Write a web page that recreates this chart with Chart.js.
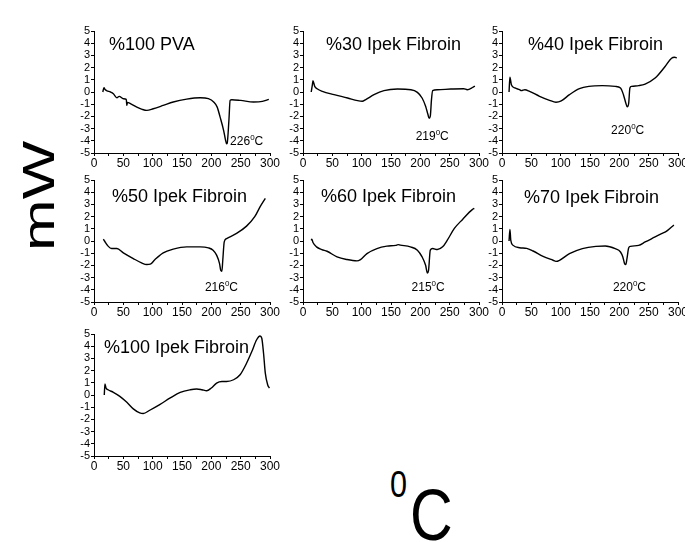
<!DOCTYPE html>
<html>
<head>
<meta charset="utf-8">
<script src="https://cdn.jsdelivr.net/npm/chart.js@4.4.1/dist/chart.umd.min.js"></script>
<style>
  html, body { margin: 0; padding: 0; background: #fff; }
  body { width: 685px; height: 542px; position: relative; overflow: hidden;
         font-family: "Liberation Sans", Arial, sans-serif; }
  canvas { position: absolute; }
  .big { position: absolute; color: #000; white-space: nowrap; line-height: 1; }
</style>
</head>
<body>
<canvas id="p1" width="212" height="150" style="left:72px;top:21px"></canvas>
<canvas id="p2" width="212" height="150" style="left:281px;top:21px"></canvas>
<canvas id="p3" width="212" height="150" style="left:480px;top:21px"></canvas>
<canvas id="p4" width="212" height="150" style="left:72px;top:170px"></canvas>
<canvas id="p5" width="212" height="150" style="left:281px;top:170px"></canvas>
<canvas id="p6" width="212" height="150" style="left:480px;top:170px"></canvas>
<canvas id="p7" width="212" height="150" style="left:72px;top:324px"></canvas>

<div class="big" style="left:17px;top:251px;font-size:62px;transform-origin:0 0;transform:rotate(-90deg) scaleY(0.72)">mW</div>
<div class="big" style="left:390px;top:467px;font-size:36px;transform-origin:0 0;transform:scaleX(0.85)">0</div>
<div class="big" style="left:410px;top:479px;font-size:72px;transform-origin:0 0;transform:scaleX(0.82)">C</div>

<script>
// temperatures (deg C) and heat flow (mW)
var pvaT  = [15,17,19,22,28,33,39,43,50,55,56,57,62,73,82,90,101,118,135,158,181,195,204,210,215,221,224,226,227,230,232,235,250,272,287,298];
var pvaMW = [0,0.35,0.2,0.1,0,-0.14,-0.47,-0.36,-0.55,-0.6,-1.1,-0.85,-0.95,-1.24,-1.42,-1.51,-1.37,-1.1,-0.82,-0.58,-0.47,-0.55,-0.82,-1.24,-2.06,-3.16,-3.9,-4.25,-4.2,-2.3,-0.69,-0.63,-0.69,-0.82,-0.77,-0.6];

var f30T  = [14,16,17,20,24,33,53,76,93,101,107,121,138,161,184,195,203,209,213,215,217,219,221,229,252,274,280,290,293];
var f30MW = [0,0.6,0.92,0.46,0.27,0.05,-0.22,-0.49,-0.71,-0.76,-0.62,-0.22,0.11,0.24,0.19,-0.03,-0.49,-1.17,-1.85,-2.15,-1.98,-0.62,0.11,0.19,0.24,0.27,0.19,0.4,0.48];

var f40T  = [12,13.5,16,22,30,33,39,47,64,81,92,101,115,132,148,171,193,202,207,211,213.5,216,218,221,233,244,261,278,289,294,298];
var f40MW = [0,1.22,0.6,0.33,0.19,0.11,0.19,0.05,-0.35,-0.68,-0.84,-0.73,-0.22,0.27,0.46,0.52,0.46,0.33,-0.22,-0.9,-1.22,-0.9,0.33,0.46,0.52,0.65,1.14,2.09,2.77,2.85,2.8];

var f50T  = [16,18,24,30,39,50,67,81,90,96,104,118,135,158,181,195,203,209,214,216,218,219.5,222,226,243,260,274,283,292];
var f50MW = [0.15,0,-0.42,-0.62,-0.62,-0.97,-1.44,-1.79,-1.93,-1.9,-1.52,-0.97,-0.67,-0.48,-0.48,-0.56,-0.75,-1.16,-1.85,-2.4,-2.48,-1.58,-0.07,0.2,0.62,1.22,1.99,2.8,3.5];

var f60T  = [14,15,17,23,32,41,58,75,92,98,109,126,143,158,162,166,183,195,203,209,212,214,217,221,229,238,246,258,272,289,292];
var f60MW = [0.05,0.15,-0.12,-0.48,-0.7,-0.84,-1.3,-1.52,-1.63,-1.52,-1.03,-0.62,-0.42,-0.36,-0.3,-0.34,-0.48,-0.75,-1.3,-1.99,-2.62,-2.4,-0.75,-0.62,-0.7,-0.48,0.07,1.03,1.77,2.59,2.67];

var f70T  = [12,13.5,15,19,30,42,53,70,87,92,98,115,137,160,176,193,202,206,209,211,213,216,219,233,244,261,272,280,289,293];
var f70MW = [0,0.95,0.05,-0.36,-0.55,-0.6,-0.82,-1.26,-1.58,-1.67,-1.58,-1.04,-0.63,-0.44,-0.41,-0.63,-0.9,-1.31,-1.86,-1.94,-1.45,-0.55,-0.44,-0.36,-0.08,0.33,0.6,0.79,1.15,1.3];

var f100T  = [17.5,18.7,20.5,24,33,44,56,67,78,84,95,112,130,147,164,175,184,192,200,209,218,226,238,249,260,269,277,283,286,289,292,296,299];
var f100MW = [0,0.9,0.57,0.43,0.22,-0.11,-0.6,-1.14,-1.47,-1.52,-1.25,-0.79,-0.24,0.22,0.43,0.49,0.43,0.35,0.57,0.98,1.11,1.11,1.25,1.66,2.6,3.56,4.51,4.84,4.65,3.42,1.79,0.84,0.57];

var titles = ['%100 PVA', '%30 Ipek Fibroin', '%40 Ipek Fibroin', '%50 Ipek Fibroin',
              '%60 Ipek Fibroin', '%70 Ipek Fibroin', '%100 Ipek Fibroin'];
var peakLabels = ['226', '219', '220', '216', '215', '220', null];

var FONT = '"Liberation Sans", Arial, sans-serif';

// draws the panel title and the peak temperature inside the plot
var panelText = {
  id: 'panelText',
  afterDatasetsDraw: function(chart, args, opts) {
    var ctx = chart.ctx, area = chart.chartArea;
    ctx.save();
    ctx.fillStyle = '#000';
    ctx.textBaseline = 'alphabetic';
    ctx.textAlign = 'left';
    ctx.font = '18px ' + FONT;
    ctx.fillText(opts.title, area.left + opts.dx, area.top + opts.dy);
    if (opts.peak) {
      var x = chart.scales.x.getPixelForValue(opts.px);
      var y = chart.scales.y.getPixelForValue(opts.py);
      ctx.font = '12px ' + FONT;
      ctx.fillText(opts.peak, x, y);
      x += ctx.measureText(opts.peak).width;
      ctx.font = '8px ' + FONT;
      ctx.fillText('0', x, y - 5);
      x += ctx.measureText('0').width;
      ctx.font = '12px ' + FONT;
      ctx.fillText('C', x, y);
    }
    ctx.restore();
  }
};

function pts(t, v) {
  return t.map(function(x, i) { return { x: x, y: v[i] }; });
}

function makePanel(id, t, v, idx, dx, dy, px, py) {
  new Chart(document.getElementById(id), {
    type: 'line',
    data: {
      datasets: [{
        data: pts(t, v),
        borderColor: '#000',
        borderWidth: 1.4,
        pointRadius: 0,
        fill: false,
        cubicInterpolationMode: 'monotone'
      }]
    },
    options: {
      responsive: false,
      animation: false,
      devicePixelRatio: 1,
      layout: { padding: { top: 10, right: 14, left: 0, bottom: 0 } },
      plugins: {
        legend: { display: false },
        tooltip: { enabled: false },
        panelText: { title: titles[idx], dx: dx, dy: dy, peak: peakLabels[idx], px: px, py: py }
      },
      scales: {
        x: {
          type: 'linear', min: 0, max: 300,
          afterFit: function(s) { s.height = 18; },
          border: { display: true, color: '#000', width: 1 },
          grid: { drawOnChartArea: false, color: '#000', tickLength: 3 },
          ticks: {
            stepSize: 25, autoSkip: false, maxRotation: 0, padding: 0,
            color: '#000', font: { family: FONT, size: 12 },
            callback: function(val) { return val % 50 === 0 ? val : ''; }
          }
        },
        y: {
          min: -5, max: 5,
          afterFit: function(s) { s.width = 22; },
          border: { display: true, color: '#000', width: 1 },
          grid: { drawOnChartArea: false, color: '#000', tickLength: 3 },
          ticks: { stepSize: 1, autoSkip: false, padding: 1, color: '#000', font: { family: FONT, size: 11 } }
        }
      }
    },
    plugins: [panelText]
  });
}

makePanel('p1', pvaT, pvaMW, 0, 15, 19, 232, -4.35);
makePanel('p2', f30T, f30MW, 1, 23, 19, 192, -3.93);
makePanel('p3', f40T, f40MW, 2, 26, 19, 186, -3.43);
makePanel('p4', f50T, f50MW, 3, 18, 22, 189, -4.1);
makePanel('p5', f60T, f60MW, 4, 18, 22, 185, -4.1);
makePanel('p6', f70T, f70MW, 5, 22, 23, 189, -4.1);
makePanel('p7', f100T, f100MW, 6, 10, 19, 0, 0);
</script>
</body>
</html>
